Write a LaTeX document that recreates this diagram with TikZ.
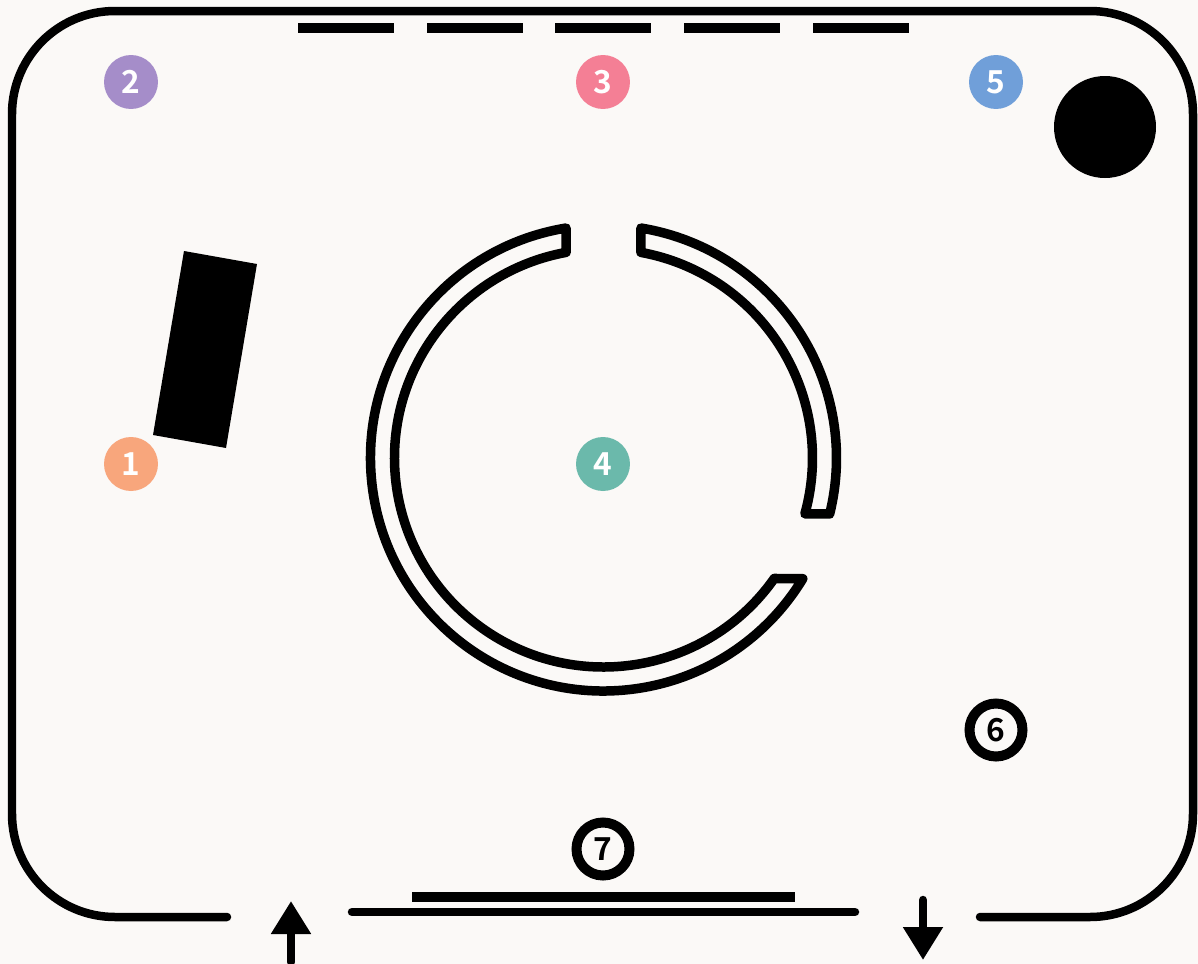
\documentclass[tikz,border=0pt]{standalone}
\usepackage{fontspec}
\newfontfamily\digitfont[BoldFont={Noto Sans CJK SC Bold}]{Noto Sans CJK SC}
\usetikzlibrary{arrows.meta}
\usetikzlibrary{calc}
\usetikzlibrary{math}
\definecolor{paper}{HTML}{FBF9F7}
\definecolor{badgeorange}{HTML}{F8A67C}
\definecolor{badgepurple}{HTML}{A58DC9}
\definecolor{badgepink}{HTML}{F47F95}
\definecolor{badgeteal}{HTML}{6BB9AB}
\definecolor{badgeblue}{HTML}{709FD9}
\tikzset{
  wall/.style={line width=0.17cm, line cap=round, line join=round},
  ringwall/.style={line width=0.19cm, line cap=round, line join=round},
  badge/.style={circle, fill=#1, text=white, minimum size=1.08cm, inner sep=0pt,
    font=\digitfont\fontsize{18}{18}\selectfont\bfseries},
  ringbadge/.style={circle, draw, line width=0.2cm, fill=paper, text=black, minimum size=1.06cm,
    inner sep=0pt, font=\digitfont\fontsize{18}{18}\selectfont\bfseries},
  slot/.style={fill=black},
  flow/.style={line width=0.17cm, line cap=round, -{Triangle[length=0.66cm,width=0.76cm]}},
}
\begin{document}
\begin{tikzpicture}[x=0.02cm,y=-0.02cm]

  \tikzmath{
    \outerR = 233;    % outer wall of the ring
    \innerR = 209;    % inner wall of the ring
    \corner = 103;    % corner radius of the frame
  }

  % Background
  \fill[paper] (0,0) rectangle (1198,964);
  \useasboundingbox (0,0) rectangle (1198,964);

  \coordinate (ring) at (603.5,458);

  % Frame, open at the bottom
  \draw[wall] (227,917) -- (115,917) arc (90:180:\corner) -- (12,114)
    arc (180:270:\corner) -- (1090,11) arc (270:360:\corner) -- (1193,814)
    arc (0:90:\corner) -- (980,917);
  \draw[wall] (352,912) -- (855,912);

  % Slots in the top wall
  \foreach \x in {298,427,555,684,813} {
    \fill[slot] (\x,23) rectangle ++(96,10);
  }

  % Plate on the bottom wall
  \fill[slot] (412,892) rectangle (795,902);

  % Solid parts
  \fill[black] (1105,127) circle (51);
  \fill[black] (184,251) -- (257,264) -- (226,448) -- (153,435) -- cycle;

  % Ring, long piece
  \draw[ringwall] ($(ring)+(-99.24:\outerR)$) arc (-99.24:-328.8:\outerR)
    -- ($(ring)+(-324.8:\innerR)$) arc (-324.8:-100.3:\innerR) -- cycle;

  % Ring, short piece
  \draw[ringwall] ($(ring)+(-80.76:\outerR)$) arc (-80.76:13.9:\outerR)
    -- ($(ring)+(15.5:\innerR)$) arc (15.5:-79.7:\innerR) -- cycle;

  % Numbered badges
  \node[badge=badgeorange] (one)   at (131,464) {1};
  \node[badge=badgepurple] (two)   at (131,82)  {2};
  \node[badge=badgepink]   (three) at (603,82)  {3};
  \node[badge=badgeteal]   (four)  at (603,464) {4};
  \node[badge=badgeblue]   (five)  at (996,82)  {5};
  \node[ringbadge]         (six)   at (996,730) {6};
  \node[ringbadge]         (seven) at (603,849) {7};

  % In and out
  \coordinate (intail)  at (291,962);
  \coordinate (inhead)  at (291,901);
  \coordinate (outtail) at (923,900);
  \coordinate (outhead) at (923,960);
  \draw[flow] (intail) -- (inhead);
  \draw[flow] (outtail) -- (outhead);

\end{tikzpicture}
\end{document}
